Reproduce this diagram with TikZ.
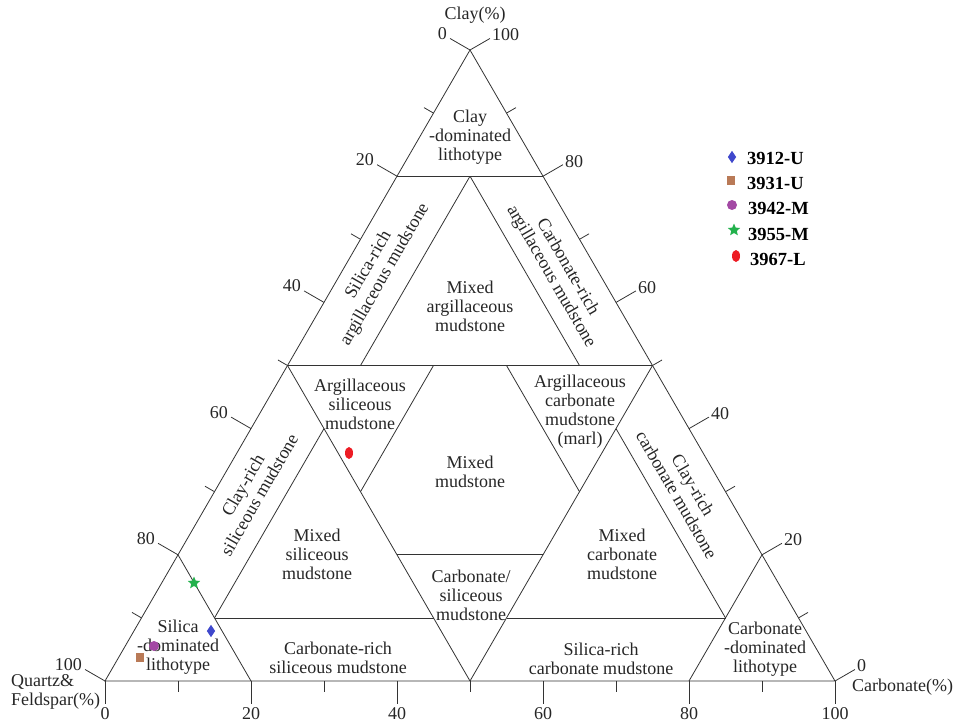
\documentclass[tikz,border=0pt]{standalone}
\usepackage{fontspec}
\setmainfont{Liberation Serif}
\usetikzlibrary{shapes.geometric}
\definecolor{mkblue}{HTML}{3F48CC}
\definecolor{mkbrown}{HTML}{B97A57}
\definecolor{mkpurple}{HTML}{A349A4}
\definecolor{mkgreen}{HTML}{22B14C}
\definecolor{mkred}{HTML}{ED1C24}
\begin{document}
\begin{tikzpicture}[x=1pt,y=-1pt,
  edge/.style={draw=black!80, line width=0.8pt, line join=miter},
  lbl/.style={align=center, inner sep=0pt, text=black!85, font=\fontsize{18}{19}\selectfont},
  num/.style={inner sep=0pt, text=black!85, font=\fontsize{18}{19}\selectfont},
  leg/.style={inner sep=0pt, anchor=west, text=black, font=\fontsize{18.5}{19}\selectfont\bfseries},
  dmk/.style={diamond, fill=mkblue, minimum width=8.5pt, minimum height=12.5pt, inner sep=0pt},
  smk/.style={rectangle, fill=mkbrown, minimum width=8pt, minimum height=9pt, inner sep=0pt},
  cmk/.style={circle, fill=mkpurple, minimum size=10pt, inner sep=0pt},
  stmk/.style={star, star points=5, star point ratio=2.2, fill=mkgreen, minimum size=13pt, inner sep=0pt},
  rmk/.style={ellipse, fill=mkred, minimum width=8pt, minimum height=12pt, inner sep=0pt}
]
\useasboundingbox (0,0) rectangle (956,723);
% key points
\coordinate (A) at (105,681);
\coordinate (B) at (835,681);
\coordinate (C) at (470,50);
\coordinate (L80) at (397,176.2);
\coordinate (R80) at (543,176.2);
\coordinate (T) at (470,176.2);
\coordinate (L50) at (287.5,365.5);
\coordinate (R50) at (652.5,365.5);
\coordinate (a1) at (360.5,365.5);
\coordinate (a2) at (433.5,365.5);
\coordinate (a3) at (506.5,365.5);
\coordinate (a4) at (579.5,365.5);
\coordinate (M) at (470,681);
\coordinate (b1) at (360.5,491.7);
\coordinate (b2) at (579.5,491.7);
\coordinate (c1) at (397,554.8);
\coordinate (c2) at (543,554.8);
\coordinate (d1) at (324,428.6);
\coordinate (d2) at (616,428.6);
\coordinate (e1) at (214.5,617.9);
\coordinate (e2) at (433.5,617.9);
\coordinate (e3) at (506.5,617.9);
\coordinate (e4) at (725.5,617.9);
\coordinate (L20) at (178,554.8);
\coordinate (Q80b) at (251,681);
\coordinate (R20) at (762,554.8);
\coordinate (K80b) at (689,681);
% outline and divisions
\draw[edge] (A) -- (B) -- (C) -- cycle;
\draw[edge] (L80) -- (R80);
\draw[edge] (L50) -- (R50);
\draw[edge] (T) -- (a1);
\draw[edge] (T) -- (a4);
\draw[edge] (a2) -- (b1);
\draw[edge] (a3) -- (b2);
\draw[edge] (L50) -- (M);
\draw[edge] (R50) -- (M);
\draw[edge] (c1) -- (c2);
\draw[edge] (d1) -- (e1);
\draw[edge] (d2) -- (e4);
\draw[edge] (e1) -- (e2);
\draw[edge] (e3) -- (e4);
\draw[edge] (L20) -- (Q80b);
\draw[edge] (R20) -- (K80b);
% ticks
\foreach \i in {0,...,10} {
  \pgfmathsetmacro\len{isodd(\i) ? 11 : 23}
  \pgfmathsetmacro\lx{105+36.5*\i}
  \pgfmathsetmacro\ly{681-63.1*\i}
  \pgfmathsetmacro\rx{835-36.5*\i}
  \pgfmathsetmacro\bx{105+73*\i}
  \draw[edge] (\lx,\ly) -- ++({-0.866*\len},{-0.5*\len}) coordinate (lt\i);
  \draw[edge] (\rx,\ly) -- ++({0.866*\len},{-0.5*\len}) coordinate (rt\i);
  \draw[edge] (\bx,681) -- ++(0,\len) coordinate (bt\i);
}
\foreach \i/\v in {0/100,2/80,4/60,6/40,8/20,10/0}
  \node[num, anchor=east, xshift=-3pt, yshift=5pt] (ql\i) at (lt\i) {\v};
\foreach \i/\v in {0/0,2/20,4/40,6/60,8/80,10/100}
  \node[num, anchor=west, xshift=2pt, yshift=3.5pt] (cl\i) at (rt\i) {\v};
\foreach \i/\v in {0/0,2/20,4/40,6/60,8/80,10/100}
  \node[num, anchor=north, yshift=-3pt] (kl\i) at (bt\i) {\v};
% axis titles
\node[num] (claytitle) at (475,15) {Clay(\%)};
\node[num, align=left, anchor=west] (qtitle) at (11,692) {Quartz\&\\Feldspar(\%)};
\node[num, anchor=west] (ktitle) at (852,687) {Carbonate(\%)};
% region labels
\node[lbl] (claydom) at (470,137) {Clay\\-dominated\\lithotype};
\node[lbl] (mixarg) at (470,306) {Mixed\\argillaceous\\mudstone};
\node[lbl, rotate=60] (siarg) at (377,270) {Silica-rich\\argillaceous mudstone};
\node[lbl, rotate=-60] (caarg) at (559,272) {Carbonate-rich\\argillaceous mudstone};
\node[lbl] (argsi) at (360,404) {Argillaceous\\siliceous\\mudstone};
\node[lbl] (argca) at (580,412) {Argillaceous\\carbonate\\mudstone\\(marl)};
\node[lbl] (mixed) at (470,472) {Mixed\\mudstone};
\node[lbl, rotate=60] (clsi) at (251,490) {Clay-rich\\siliceous mudstone};
\node[lbl, rotate=-60] (clca) at (685,490) {Clay-rich\\carbonate mudstone};
\node[lbl] (mixsi) at (317,554) {Mixed\\siliceous\\mudstone};
\node[lbl] (mixca) at (622,554) {Mixed\\carbonate\\mudstone};
\node[lbl] (casi) at (471,595) {Carbonate/\\siliceous\\mudstone};
\node[lbl] (sidom) at (178,647) {Silica\\-dominated\\lithotype};
\node[lbl] (cadom) at (765,649) {Carbonate\\-dominated\\lithotype};
\node[lbl] (carichsi) at (338,658) {Carbonate-rich\\siliceous mudstone};
\node[lbl] (sirichca) at (601,659) {Silica-rich\\carbonate mudstone};
% legend
\node[dmk] (m1) at (732,157) {};
\node[leg] (t1) at (747,158) {3912-U};
\node[smk] (m2) at (731,180) {};
\node[leg] (t2) at (747,183) {3931-U};
\node[cmk] (m3) at (732,205) {};
\node[leg] (t3) at (748,208) {3942-M};
\node[stmk] (m4) at (734,230) {};
\node[leg] (t4) at (748,234) {3955-M};
\node[rmk] (m5) at (736,256) {};
\node[leg] (t5) at (750,259) {3967-L};
% data points
\node[stmk] (p4) at (194,583) {};
\node[dmk] (p1) at (211,631) {};
\node[cmk] (p3) at (154,646) {};
\node[smk] (p2) at (140,657) {};
\node[rmk] (p5) at (349,453) {};
\end{tikzpicture}
\end{document}
